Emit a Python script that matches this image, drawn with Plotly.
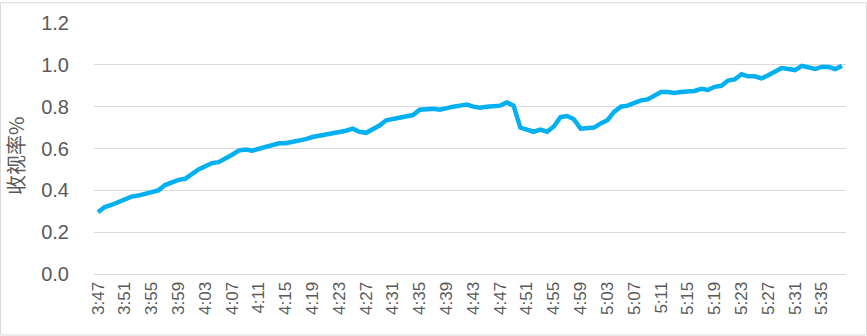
import plotly.graph_objects as go

start_h, start_m = 3, 47
times = [f"{(start_h*60+start_m+i)//60}:{(start_h*60+start_m+i)%60:02d}" for i in range(112)]

ratings = [
    0.295, 0.32, 0.33, 0.345, 0.355, 0.37, 0.375, 0.385, 0.395, 0.40,
    0.425, 0.44, 0.45, 0.455, 0.48, 0.50, 0.515, 0.53, 0.535, 0.55,
    0.57, 0.59, 0.595, 0.59, 0.60, 0.61, 0.62, 0.625, 0.625, 0.63,
    0.635, 0.645, 0.655, 0.66, 0.665, 0.67, 0.68, 0.685, 0.695, 0.68,
    0.675, 0.69, 0.71, 0.735, 0.74, 0.745, 0.755, 0.76, 0.785, 0.79,
    0.79, 0.785, 0.795, 0.80, 0.805, 0.81, 0.80, 0.795, 0.80, 0.805,
    0.805, 0.82, 0.805, 0.70, 0.69, 0.68, 0.69, 0.68, 0.705, 0.75,
    0.755, 0.74, 0.695, 0.70, 0.70, 0.72, 0.735, 0.775, 0.80, 0.805,
    0.82, 0.83, 0.835, 0.85, 0.87, 0.87, 0.865, 0.87, 0.87, 0.875,
    0.885, 0.88, 0.895, 0.90, 0.925, 0.93, 0.955, 0.945, 0.945, 0.935,
    0.95, 0.965, 0.985, 0.98, 0.975, 0.995, 0.99, 0.98, 0.99, 0.99,
    0.98, 0.995,
]

tick_labels = times[::4]
y_ticks = [0.0, 0.2, 0.4, 0.6, 0.8, 1.0, 1.2]
y_title = "收视率%"

font_family = "Liberation Sans Narrow, Liberation Sans, Noto Sans CJK SC, sans-serif"
grey = "#595959"
grid = "#D9D9D9"

fig = go.Figure()
fig.add_trace(go.Scatter(
    x=list(range(len(ratings))), y=ratings, mode="lines",
    line=dict(color="#00B0F0", width=4.5), hoverinfo="y",
))

fig.update_layout(
    width=867, height=336,
    margin=dict(l=94, r=21, t=21, b=62),
    paper_bgcolor="white", plot_bgcolor="white",
    showlegend=False,
    font=dict(family=font_family, color=grey),
)
fig.update_xaxes(
    range=[-0.6, 111.6],
    tickmode="array",
    tickvals=list(range(0, len(ratings), 4)),
    ticktext=tick_labels,
    tickangle=-90,
    tickfont=dict(size=17, color=grey),
    showgrid=False, zeroline=False,
    showline=True, linecolor=grid, linewidth=1,
    ticks="",
)
fig.update_yaxes(
    range=[0, 1.2],
    tickmode="array",
    tickvals=y_ticks,
    ticktext=[f"{v:.1f}" for v in y_ticks],
    tickfont=dict(size=20, color=grey),
    showgrid=True, gridcolor=grid, gridwidth=1,
    zeroline=False, showline=False,
    ticklabelstandoff=24,
)
fig.add_annotation(
    text=y_title, xref="paper", yref="paper",
    x=(16 - 94) / 752, y=(274 - 155) / 253,
    xanchor="center", yanchor="middle", textangle=-90, showarrow=False,
    font=dict(size=20, color=grey, family="Noto Sans CJK SC, sans-serif"),
)
fig.add_shape(type="rect", xref="paper", yref="paper",
              x0=-0.1243, x1=1.0273, y0=-0.2431, y1=1.081,
              line=dict(color=grid, width=1), fillcolor="rgba(0,0,0,0)", layer="below")

fig.write_html("out.html")
